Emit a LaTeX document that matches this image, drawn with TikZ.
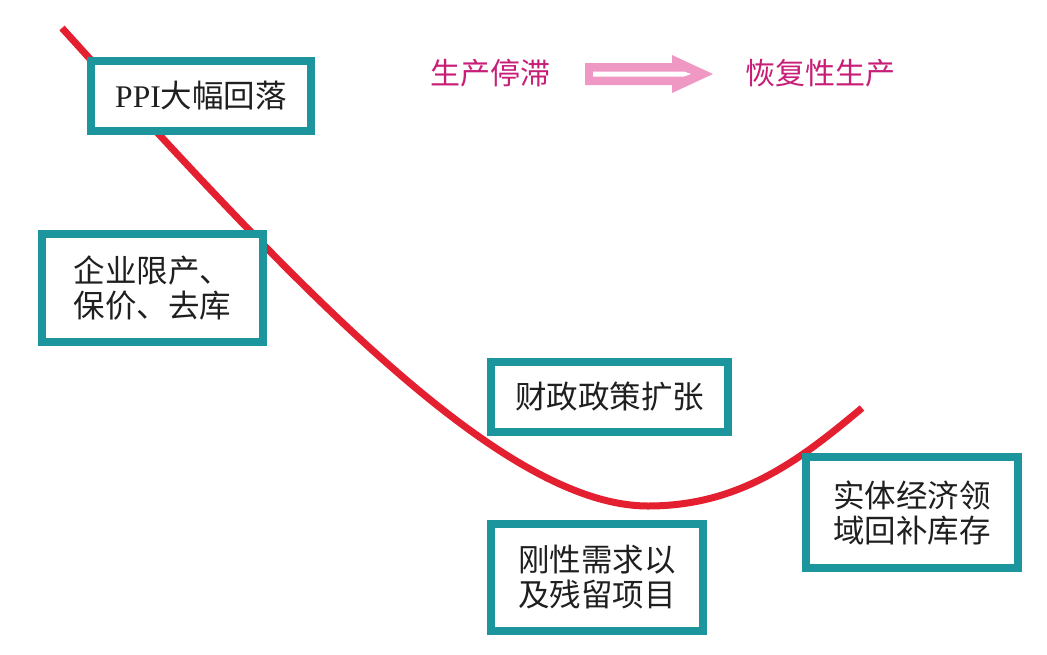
\documentclass[tikz,border=0pt]{standalone}
\usepackage{fontspec}
\setmainfont{Liberation Serif}
\newfontfamily\cjk{Noto Sans CJK SC}
\usetikzlibrary{calc}
\definecolor{boxteal}{RGB}{28,150,156}
\definecolor{curvered}{RGB}{228,32,48}
\definecolor{arrowpink}{RGB}{240,152,196}
\definecolor{magtext}{RGB}{200,30,120}
\begin{document}
\begin{tikzpicture}[x=1pt,y=-1pt,
  box/.style={draw=boxteal, line width=8pt, fill=white, inner sep=0pt, align=center,
    font=\fontsize{31.5}{35}\selectfont\cjk, text=black!88},
  stage/.style={font=\fontsize{30}{36}\selectfont\cjk, text=magtext, inner sep=0pt},
  curve/.style={draw=curvered, line width=7pt}]
\useasboundingbox (0,0) rectangle (1047,654);
\fill[white] (0,0) rectangle (1047,654);
% curve
\coordinate (c0) at (62,28);
\coordinate (cb) at (648,506);
\coordinate (c1) at (862,408);
\draw[curve] (c0) .. controls (290,280) and (500,506) .. (cb)
  .. controls (740,506) and (800,460) .. (c1);
% boxes
\node[box, minimum width=220pt, minimum height=70pt] (ppi) at (201,96) {\rmfamily PPI\cjk 大幅回落};
\node[box, minimum width=221pt, minimum height=108pt] (qiye) at (152.5,288) {企业限产、\\保价、去库};
\node[box, minimum width=237pt, minimum height=70pt] (caizheng) at (609.5,397) {财政政策扩张};
\node[box, minimum width=212pt, minimum height=107pt] (gangxing) at (597,577.5) {刚性需求以\\及残留项目};
\node[box, minimum width=212pt, minimum height=111pt] (shiti) at (912,512.5) {实体经济领\\域回补库存};
% top labels
\node[stage] (stop) at (490,73) {生产停滞};
\node[stage] (resume) at (820,73) {恢复性生产};
\coordinate (as) at (585,74);
\begin{scope}[shift={(as)}]
\fill[arrowpink] (0,-11) -- (87,-11) -- (87,-19) -- (128,0) -- (87,19) -- (87,11) -- (0,11) -- cycle;
\fill[white] (8,-2.5) -- (99,-2.5) -- (106,0) -- (99,2.5) -- (8,2.5) -- cycle;
\end{scope}
\end{tikzpicture}
\end{document}
